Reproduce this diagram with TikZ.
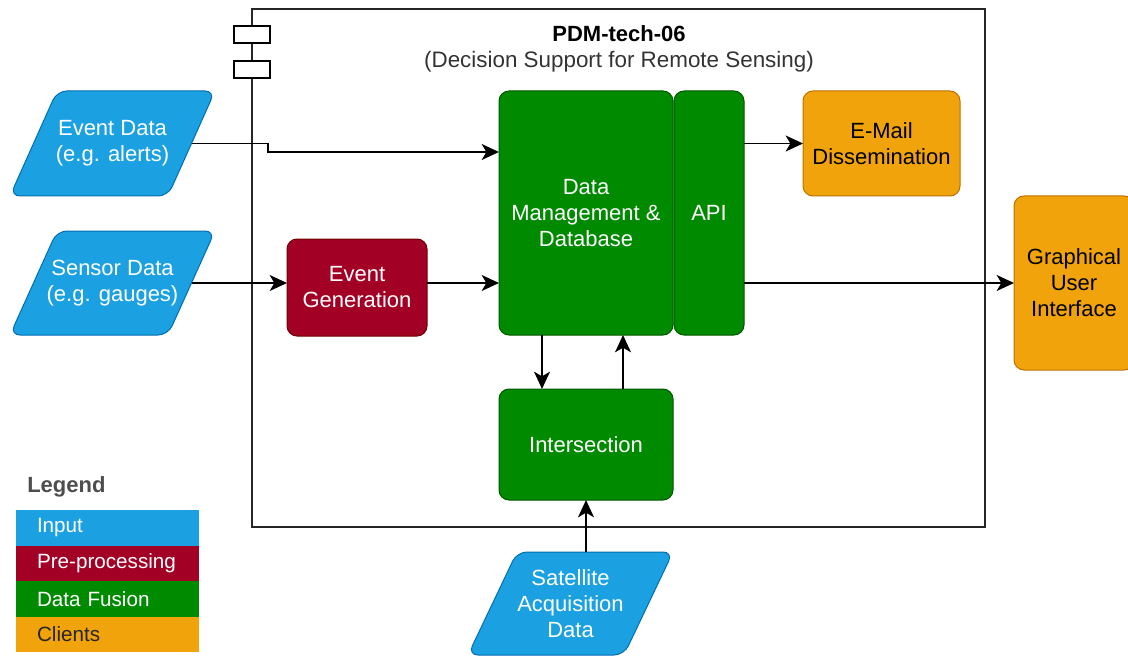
\documentclass[tikz,border=0pt]{standalone}
\usepackage{fontspec}
\setmainfont{Liberation Sans}
\usetikzlibrary{arrows.meta}
\definecolor{inF}{HTML}{1BA1E2}\definecolor{inS}{HTML}{006EAF}
\definecolor{ppF}{HTML}{A20025}\definecolor{ppS}{HTML}{6F0000}
\definecolor{dfF}{HTML}{008A00}\definecolor{dfS}{HTML}{005700}
\definecolor{clF}{HTML}{F0A30A}\definecolor{clS}{HTML}{BD7000}
\definecolor{lgG}{HTML}{4D4D4D}
\definecolor{subG}{HTML}{333333}
\tikzset{
  mw/.style={minimum width=#1*0.75pt},
  mh/.style={minimum height=#1*0.75pt},
  boxtxt/.style={font=\fontsize{16.5}{19.5}\selectfont, align=center, inner sep=0pt, outer sep=0pt},
  rbox/.style={boxtxt, rectangle, rounded corners=7.5pt, draw, line width=0.75pt},
  inshape/.style={draw=inS, fill=inF, line width=0.75pt, rounded corners=7.5pt},
  intxt/.style={boxtxt, text=white},
  ppbox/.style={rbox, draw=ppS, fill=ppF, text=white},
  dfbox/.style={rbox, draw=dfS, fill=dfF, text=white},
  clbox/.style={rbox, draw=clS, fill=clF, text=black},
  arr/.style={line width=1.1pt, -{Stealth[length=13pt, width=12pt, inset=3.5pt]}},
  legrow/.style={font=\fontsize{15.5}{18}\selectfont, align=left, inner ysep=0pt, inner xsep=15.75pt,
     text width=105.75pt, minimum height=26.6pt, outer sep=0pt},
  icon/.style={draw, fill=white, line width=1.1pt, minimum width=27pt, minimum height=12.75pt, inner sep=0pt}
}
\begin{document}
\begin{tikzpicture}[x=0.75pt,y=-0.75pt]
\useasboundingbox (0,0) rectangle (1128,656);
% frame and component icon
\node[draw=black!85, line width=1.1pt, mw=733, mh=518, inner sep=0pt, outer sep=0pt] (frame) at (618.5,268) {};
\node[icon] (ic1) at (252,34.5) {};
\node[icon] (ic2) at (252,69.5) {};
\node[font=\fontsize{16.5}{19.5}\selectfont\bfseries, inner sep=0pt] (title) at (619,34) {PDM-tech-06};
\node[font=\fontsize{16.8}{19.5}\selectfont, text=subG, inner sep=0pt] (sub) at (619,62) {(Decision Support for Remote Sensing)};
% inputs (parallelograms)
\path[inshape] (57,91) -- (215,91) -- (168,196) -- (10,196) -- cycle;
\node[intxt, mw=158, mh=105] (ev) at (112.5,143.5) {Event Data\\(e.g. alerts)};
\path[inshape] (57,231) -- (215,231) -- (168,335) -- (10,335) -- cycle;
\node[intxt, mw=158, mh=104] (sd) at (112.5,283) {Sensor Data\\(e.g. gauges)};
\path[inshape] (517,552) -- (673,552) -- (624,655) -- (468,655) -- cycle;
\node[intxt, mw=156, mh=103] (sat) at (570.5,603.5) {Satellite\\Acquisition\\Data};
% processing
\node[ppbox, mw=140, mh=97] (eg) at (357,287.5) {Event\\Generation};
\node[dfbox, mw=174, mh=244] (dm) at (586,213) {Data\\Management \&\\Database};
\node[dfbox, mw=70, mh=244] (api) at (709,213) {API};
\node[dfbox, mw=174, mh=111] (int) at (586,444.5) {Intersection};
% clients
\node[clbox, mw=157, mh=105] (em) at (881.5,143.5) {E-Mail\\Dissemination};
\node[clbox, mw=120, mh=174] (gui) at (1074,283) {Graphical\\User\\Interface};
% connectors
\coordinate (jog) at (268,152);
\draw[arr] (ev.east) -| (jog) -- (jog -| dm.west);
\draw[arr] (sd.east) -- (sd.east -| eg.west);
\draw[arr] (sd.east -| eg.east) -- (sd.east -| dm.west);
\draw[arr] (em.west -| api.east) -- (em.west);
\draw[arr] (gui.west -| api.east) -- (gui.west);
\draw[arr] ([xshift=-33pt]dm.south) -- ([xshift=-33pt]int.north);
\draw[arr] ([xshift=27.75pt]int.north) -- ([xshift=27.75pt]dm.south);
\draw[arr] (int.south |- sat.north) -- (int.south);
% legend
\node[anchor=west, font=\fontsize{16.5}{19.5}\selectfont\bfseries, text=lgG, inner sep=0pt] (lg) at (27,487) {Legend};
\node[legrow, fill=inF, text=white] (l1) at (107.5,528) {Input};
\node[legrow, fill=ppF, text=white] (l2) at (107.5,563.5) {Pre-processing};
\node[legrow, fill=dfF, text=white] (l3) at (107.5,599) {Data Fusion};
\node[legrow, fill=clF, text=black!85] (l4) at (107.5,634.5) {Clients};
\end{tikzpicture}
\end{document}
